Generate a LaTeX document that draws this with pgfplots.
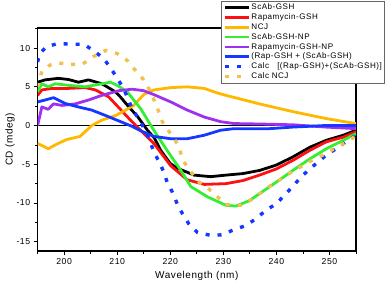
\documentclass[border=0pt]{standalone}
\usepackage{fontspec}
\setmainfont[LetterSpace=6]{Liberation Sans}
\usepackage{pgfplots}
\pgfplotsset{compat=1.18}
\definecolor{cBlack}{HTML}{000000}
\definecolor{cRed}{HTML}{FF1010}
\definecolor{cOrange}{HTML}{FFB800}
\definecolor{cGreen}{HTML}{33EE33}
\definecolor{cPurple}{HTML}{A030F0}
\definecolor{cBlue}{HTML}{1438FF}
\definecolor{cGold}{HTML}{F0C050}
\begin{document}
\begin{tikzpicture}
\begin{axis}[name=ax,
  scale only axis, width=318.4bp, height=223bp,
  xmin=195, xmax=255, ymin=-16.2, ymax=12.6,
  xtick={200,210,...,250}, minor xtick={195,205,...,255},
  ytick={-15,-10,...,10}, minor ytick={-12.5,-7.5,...,12.5},
  extra y ticks={0}, extra y tick labels={},
  extra y tick style={grid=major, major grid style={black, line width=0.7pt}},
  xtick pos=bottom, ytick pos=left, tick align=outside,
  major tick length=4bp, minor tick length=2.5bp,
  tick style={black, line width=0.8pt},
  axis line style={line width=1.1pt},
  /pgf/number format/assume math mode=true,
  ticklabel style={font=\fontsize{8.7}{10}\selectfont},
  xlabel={Wavelength (nm)}, ylabel={CD (mdeg)},
  label style={font=\fontsize{8.7}{10}\selectfont},
  every axis x label/.style={at={(axis description cs:0.5,-0.112)}, anchor=center},
  every axis y label/.style={at={(axis description cs:-0.0867,0.5)}, anchor=center, rotate=90},
  legend style={at={(0.576,1.121)}, anchor=north west, draw=black!60, line width=0.6pt, fill=white,
    font=\fontsize{8.1}{9}\selectfont, row sep=0.9bp, inner sep=2bp,
    nodes={inner sep=0.8bp}},
  legend cell align=left,
  legend image code/.code={\draw[#1] (0bp,0bp) -- (24bp,0bp);},
  every axis plot/.append style={line width=2.8pt, line join=round},
]
% ScAb-GSH
\addplot[cBlack] coordinates {(195,5.6)(196.4,5.9)(198.9,6.1)(200.8,5.95)(202.7,5.6)(204.6,5.9)(207.1,5.4)(209.7,4.35)(210.6,3.7)(212.2,2.4)(213.8,1.2)(215.7,-0.6)(217,-1.6)(218.2,-3.2)(220,-4.9)(221.3,-5.5)(224.5,-6.4)(227.6,-6.6)(230.5,-6.4)(233.7,-6.2)(236.8,-5.8)(240,-5.1)(243.1,-4.05)(246.3,-2.8)(249.4,-1.9)(252.6,-1.25)(255,-0.6)};
\addlegendentry{ScAb-GSH}
% Rapamycin-GSH
\addplot[cRed] coordinates {(195,3.9)(195.8,4.6)(197.7,4.8)(200.8,4.8)(204,4.9)(205.9,4.6)(208.4,3.7)(210.6,2.1)(212.5,0.7)(213.8,-0.2)(216.9,-2.3)(220.1,-5.2)(223.2,-7.0)(226.4,-7.6)(230.5,-7.5)(233.7,-7.1)(236.8,-6.4)(240,-5.6)(243.1,-4.5)(246.3,-3.2)(249.4,-2.1)(252.6,-1.5)(255,-0.8)};
\addlegendentry{Rapamycin-GSH}
% NCJ
\addplot[cOrange] coordinates {(195,-2.3)(197,-3.0)(198.6,-2.4)(200.5,-1.8)(203,-1.4)(205.2,0.0)(207.1,0.7)(209.7,1.3)(211.6,2.0)(213.1,2.6)(215,4.0)(216.9,4.6)(220.1,4.9)(223.2,5.0)(226.4,4.8)(228.9,4.2)(230.5,3.9)(236.8,2.8)(243.1,1.8)(249.4,0.9)(255,0.25)};
\addlegendentry{NCJ}
% ScAb-GSH-NP
\addplot[cGreen] coordinates {(195,4.35)(195.8,5.4)(197,5.0)(198.3,5.4)(200.8,5.2)(204,5.0)(207.1,5.4)(208.7,5.6)(210,5.2)(211.9,4.35)(214.4,2.2)(216.9,-0.6)(219.4,-3.2)(222,-5.8)(223.9,-7.9)(227,-9.2)(230.5,-10.3)(232.4,-10.4)(234.9,-9.7)(236.8,-8.8)(240,-7.3)(243.1,-5.8)(246.3,-4.3)(249.4,-3.0)(252.6,-1.9)(255,-1.05)};
\addlegendentry{ScAb-GSH-NP}
% Rapamycin-GSH-NP
\addplot[cPurple] coordinates {(195,0.0)(195.8,2.4)(197,2.1)(198,2.8)(199.6,2.6)(202.1,2.8)(204.6,3.3)(207.1,3.9)(210.3,4.5)(212.8,4.7)(215,4.5)(216.9,4.0)(220.1,3.05)(223.2,2.0)(226.4,1.1)(229.5,0.5)(232,0.26)(237,0.2)(243.1,0.1)(249.4,-0.2)(255,-0.4)};
\addlegendentry{Rapamycin-GSH-NP}
% (Rap-GSH + (ScAb-GSH)
\addplot[cBlue] coordinates {(195,3.05)(196.4,3.3)(198,3.6)(200.2,2.85)(202.7,2.4)(205.2,2.0)(207.8,1.3)(210.3,0.6)(212.8,-0.1)(214.5,-0.7)(216.9,-1.4)(220.1,-1.7)(223.2,-1.7)(226.4,-1.25)(229.5,-0.6)(232,-0.4)(238.7,-0.4)(243,-0.2)(249,0.0)(255,0.0)};
\addlegendentry{(Rap-GSH + (ScAb-GSH)}
% Calc [(Rap-GSH)+(ScAb-GSH)]
\addplot[cBlue, line width=3.4pt, dash pattern=on 4bp off 8bp, line join=miter, line cap=butt] coordinates {(195,8.2)(195.4,9.3)(196.7,10.2)(198.9,10.6)(201.5,10.5)(203.7,10.5)(205.5,9.7)(207.4,8.7)(208.8,7.4)(210,6.1)(211.2,4.8)(212.8,2.2)(214.4,0.5)(216,-1.7)(216.9,-3.4)(217.9,-4.7)(218.8,-6.0)(219.4,-7.3)(220.4,-8.6)(221.3,-10.1)(222.3,-11.4)(223.5,-12.7)(225.1,-13.8)(227.7,-14.2)(229.9,-14.1)(231.8,-13.5)(234.3,-12.9)(236.2,-12.0)(238.1,-10.9)(240,-10.1)(241.5,-9.0)(243.1,-7.85)(244.7,-6.6)(246.3,-5.6)(249.4,-3.8)(251.7,-2.8)(253.5,-1.9)(255,-1.25)};
\addlegendentry{Calc\ \ \ [(Rap-GSH)+(ScAb-GSH)]}
% Calc NCJ
\addplot[cGold, line width=3.4pt, dash pattern=on 4bp off 8bp, line join=miter, line cap=butt] coordinates {(195,5.0)(195.8,7.0)(197.3,7.8)(198.9,8.1)(200.8,7.9)(203.4,7.9)(205.5,8.9)(207.8,9.7)(210,9.3)(211.9,8.4)(213.1,7.4)(215,5.9)(216.3,4.35)(217.6,2.2)(218.5,0.5)(219.8,-0.8)(221.3,-2.3)(222.6,-4.7)(223.9,-6.0)(225.4,-7.3)(227.3,-8.2)(228.9,-9.2)(230.5,-10.2)(233.3,-10.3)(235.5,-9.5)(238.7,-7.85)(243.1,-5.9)(247.2,-4.3)(249.4,-3.6)(251.3,-2.8)(253.3,-2.1)(255,-1.3)};
\addlegendentry{Calc NCJ}
\end{axis}
\pgfresetboundingbox
\path ([shift={(-37.6bp,-34bp)}]ax.south west) rectangle ([shift={(36bp,28bp)}]ax.north east);
\end{tikzpicture}
\end{document}
